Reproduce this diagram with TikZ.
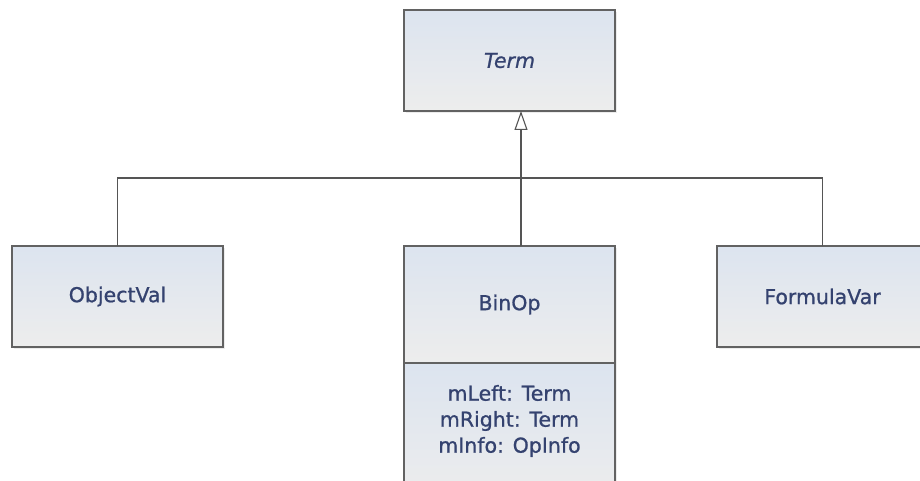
\documentclass[tikz,border=0pt]{standalone}
\usepackage{fontspec}
\setmainfont{DejaVu Sans}[FakeBold=1.2]
\newfontfamily\clsfont{DejaVu Sans}[FakeBold=0.9]
\usetikzlibrary{arrows.meta,calc,shadows}
\definecolor{txtc}{HTML}{34426F}
\definecolor{bordc}{HTML}{626262}
\definecolor{topc}{HTML}{DCE4EF}
\definecolor{botc}{HTML}{EDEDED}
\definecolor{linec}{HTML}{555555}
\begin{document}
\begin{tikzpicture}[x=1pt,y=-1pt,
  cls/.style={draw=bordc, line width=1.2pt, top color=topc, bottom color=botc,
    minimum width=211pt, minimum height=101pt, inner sep=0pt, outer sep=0pt,
    anchor=north west, text=txtc, font=\clsfont\fontsize{20.5}{26}\selectfont,
    drop shadow={shadow xshift=2pt, shadow yshift=-2pt, opacity=0.15}},
  conn/.style={draw=linec, line width=1.1pt},
  gen/.style={conn, -{Triangle[open, length=19pt, width=13pt, line width=1.1pt]}}
]
\useasboundingbox (0,0) rectangle (920,481);
\clip (0,0) rectangle (920,481);
\fill[white] (0,0) rectangle (920,481);

\node[cls] (term) at (404,10) {\itshape Term};
\node[cls] (objval) at (12,246) {ObjectVal};
\node[cls] (binop) at (404,246) [minimum height=117pt] {BinOp};
\node[cls, minimum height=140pt, top color=topc, bottom color=botc] (binattr) at (404,363) {};
\node[text=txtc, font=\clsfont\fontsize{20.5}{26}\selectfont, align=center, inner sep=0pt] (attrs) at (509.5,421) {mLeft: Term\\mRight: Term\\mInfo: OpInfo};
\node[cls] (fvar) at (717,246) {FormulaVar};

\coordinate (tin) at ($(term.south)+(11.5,0)$);
\coordinate (bin) at ($(binop.north)+(11.5,0)$);
\coordinate (junc) at (tin |- 0,178);

\draw[conn] (objval.north) |- (junc);
\draw[conn] (fvar.north) |- (junc);
\draw[gen] (bin) -- (tin);
\end{tikzpicture}
\end{document}
